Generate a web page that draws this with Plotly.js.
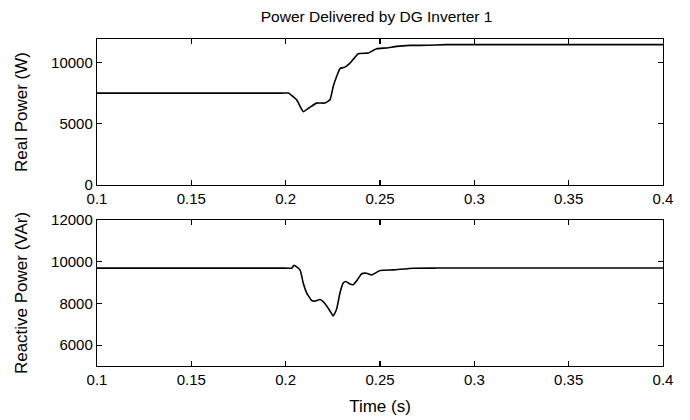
<!DOCTYPE html>
<html>
<head>
<meta charset="utf-8">
<script src="https://cdn.plot.ly/plotly-3.0.1.min.js"></script>
<style>html,body{margin:0;padding:0;background:#fff;}#chart{width:690px;height:420px;}</style>
</head>
<body>
<div id="chart"></div>
<script>
// Real power (W) vs time (s)
const tReal = [0.1, 0.15, 0.1980, 0.2014, 0.2058, 0.2093, 0.2125, 0.2164, 0.2208, 0.2235, 0.2252, 0.2270, 0.2288, 0.2314, 0.2341, 0.2385, 0.2438, 0.2482, 0.2535, 0.2588, 0.2659, 0.2750, 0.2850, 0.30, 0.35, 0.4];
const realPower = [7500, 7500, 7500, 7500, 6950, 5990, 6300, 6680, 6690, 6950, 8040, 8855, 9500, 9620, 9950, 10710, 10770, 11120, 11180, 11310, 11390, 11400, 11450, 11450, 11450, 11450];

// Reactive power (VAr) vs time (s)
const tReactive = [0.1, 0.15, 0.2000, 0.2032, 0.2044, 0.2076, 0.2093, 0.2111, 0.2138, 0.2155, 0.2182, 0.2208, 0.2235, 0.2252, 0.2270, 0.2288, 0.2305, 0.2319, 0.2341, 0.2358, 0.2380, 0.2403, 0.2429, 0.2456, 0.2500, 0.2570, 0.2676, 0.28, 0.30, 0.35, 0.4];
const reactivePower = [9690, 9690, 9690, 9690, 9830, 9610, 8980, 8510, 8140, 8110, 8190, 8000, 7640, 7400, 7720, 8510, 8980, 9050, 8930, 8900, 9135, 9420, 9450, 9370, 9580, 9610, 9690, 9695, 9695, 9695, 9695];

const xTicks = [0.1, 0.15, 0.2, 0.25, 0.3, 0.35, 0.4];
const xTickText = ["0.1", "0.15", "0.2", "0.25", "0.3", "0.35", "0.4"];
const yTicksReal = [0, 5000, 10000];
const yTicksReactive = [6000, 8000, 10000, 12000];

const fam = "Liberation Sans, Arial, sans-serif";
const tickFont = {family: fam, size: 15, color: "#000"};
const titleFont = {family: fam, size: 17, color: "#000"};

const data = [
  {x: tReal, y: realPower, xaxis: "x", yaxis: "y", mode: "lines", line: {color: "#000", width: 1.6, shape: "spline", smoothing: 0.4}},
  {x: tReactive, y: reactivePower, xaxis: "x2", yaxis: "y2", mode: "lines", line: {color: "#000", width: 1.6, shape: "spline", smoothing: 0.4}}
];

const axBase = {
  showline: true, linecolor: "#000", linewidth: 1.2, mirror: "allticks",
  ticks: "inside", ticklen: 5, tickcolor: "#000", tickwidth: 1.2,
  showgrid: false, zeroline: false, tickfont: tickFont
};

const layout = {
  width: 690, height: 420,
  paper_bgcolor: "#fff", plot_bgcolor: "#fff",
  showlegend: false,
  margin: {l: 97, r: 27, t: 39, b: 54},
  font: tickFont,
  title: {text: "Power Delivered by DG Inverter 1", font: {family: fam, size: 15.5, color: "#000"}, x: 0.494, xanchor: "center", xref: "paper", y: 0.96, yanchor: "middle"},
  xaxis: Object.assign({}, axBase, {domain: [0, 1], range: [0.1, 0.4], tickvals: xTicks, ticktext: xTickText, anchor: "y"}),
  yaxis: Object.assign({}, axBase, {domain: [0.5535, 1], range: [0, 11913], tickvals: yTicksReal, tickformat: "d", anchor: "x",
    title: {text: "Real Power (W)", font: titleFont, standoff: 19}}),
  xaxis2: Object.assign({}, axBase, {domain: [0, 1], range: [0.1, 0.4], tickvals: xTicks, ticktext: xTickText, anchor: "y2",
    title: {text: "Time (s)", font: titleFont, standoff: 12}}),
  yaxis2: Object.assign({}, axBase, {domain: [0, 0.4465], range: [5000, 12000], tickvals: yTicksReactive, tickformat: "d", anchor: "x2",
    title: {text: "Reactive Power (VAr)", font: titleFont, standoff: 19}})
};

Plotly.newPlot("chart", data, layout, {staticPlot: true, displayModeBar: false});
</script>
</body>
</html>
